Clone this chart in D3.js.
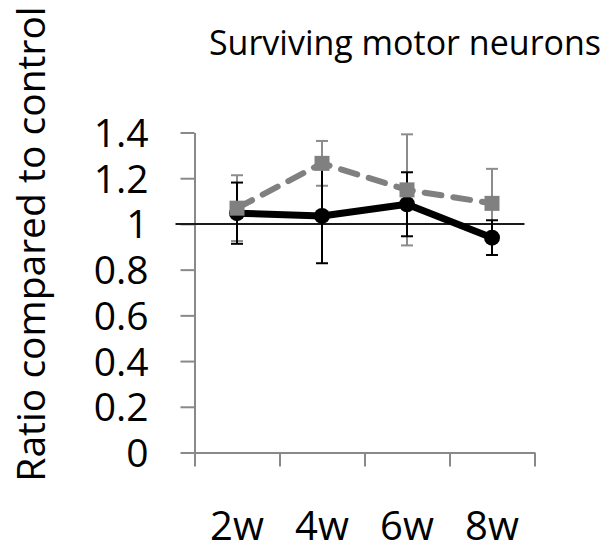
<!DOCTYPE html>
<meta charset="utf-8">
<style>
	body { margin: 0; background: #fff; }
	text { font-family: "Open Sans", sans-serif; fill: #000; }
	.axis path, .axis line { stroke: #898989; stroke-width: 2; }
	.axis text { font-size: 39px; }
</style>
<body>
<script src="https://d3js.org/d3.v7.min.js"></script>
<script>

	var categories = ["2w", "4w", "6w", "8w"];
	var yTicks = [0, 0.2, 0.4, 0.6, 0.8, 1, 1.2, 1.4];

	// black series (circles, solid)
	var blackMean = [1.047, 1.035, 1.086, 0.940];
	var blackErr = [0.134, 0.207, 0.140, 0.076];

	// grey series (squares, dashed)
	var greyMean = [1.069, 1.265, 1.149, 1.090];
	var greyErr = [0.144, 0.098, 0.243, 0.151];

	var refValue = 1;

	var width = 613,
		height = 551;

	var plot = {left: 194.5, right: 534.5, top: 132.5, bottom: 452.5};

	var svg = d3.select("body").append("svg")
		.attr("width", width)
		.attr("height", height);

	var x = d3.scaleBand()
		.domain(categories)
		.range([plot.left, plot.right]);

	var xEdge = d3.scaleLinear()
		.domain([0, categories.length])
		.range([plot.left, plot.right]);

	var y = d3.scaleLinear()
		.domain([0, 1.4])
		.range([plot.bottom, plot.top]);

	function cx(d, i) { return x(categories[i]) + x.bandwidth() / 2; }

	// title
	svg.append("text")
		.attr("x", 405)
		.attr("y", 55)
		.attr("text-anchor", "middle")
		.style("font-size", "34px")
		.text("Surviving motor neurons");

	// y axis title
	svg.append("text")
		.attr("transform", "translate(45,244) rotate(-90)")
		.attr("text-anchor", "middle")
		.style("font-size", "39px")
		.text("Ratio compared to control");

	// y axis
	var yAxis = svg.append("g")
		.attr("class", "axis")
		.attr("transform", "translate(" + plot.left + ",0)")
		.call(d3.axisLeft(y)
			.tickValues(yTicks)
			.tickSize(14)
			.tickSizeOuter(0)
			.tickPadding(32)
			.tickFormat(function(d) { return d3.format("")(+d.toFixed(1)); }));
	yAxis.selectAll("text").attr("dy", "0.36em");

	// x axis (ticks on category edges)
	svg.append("g")
		.attr("class", "axis")
		.attr("transform", "translate(0," + plot.bottom + ")")
		.call(d3.axisBottom(xEdge)
			.tickValues(d3.range(categories.length + 1))
			.tickSize(14)
			.tickSizeOuter(0)
			.tickFormat(""));

	// x labels
	svg.selectAll(".xlabel")
		.data(categories)
		.enter().append("text")
		.attr("class", "xlabel")
		.attr("x", function(d) { return x(d) + x.bandwidth() / 2; })
		.attr("y", 540)
		.attr("text-anchor", "middle")
		.style("font-size", "40px")
		.text(function(d) { return d; });

	// reference line at 1
	svg.append("line")
		.attr("x1", plot.left - 19)
		.attr("x2", plot.right - 10)
		.attr("y1", y(refValue))
		.attr("y2", y(refValue))
		.attr("stroke", "#1a1a1a")
		.attr("stroke-width", 2);

	function errorBars(mean, err, color) {
		var g = svg.append("g")
			.attr("stroke", color)
			.attr("stroke-width", 2);
		g.selectAll(".v")
			.data(mean)
			.enter().append("line")
			.attr("x1", cx).attr("x2", cx)
			.attr("y1", function(d, i) { return y(d + err[i]); })
			.attr("y2", function(d, i) { return y(d - err[i]); });
		g.selectAll(".top")
			.data(mean)
			.enter().append("line")
			.attr("x1", function(d, i) { return cx(d, i) - 6; })
			.attr("x2", function(d, i) { return cx(d, i) + 6; })
			.attr("y1", function(d, i) { return y(d + err[i]); })
			.attr("y2", function(d, i) { return y(d + err[i]); });
		g.selectAll(".bot")
			.data(mean)
			.enter().append("line")
			.attr("x1", function(d, i) { return cx(d, i) - 6; })
			.attr("x2", function(d, i) { return cx(d, i) + 6; })
			.attr("y1", function(d, i) { return y(d - err[i]); })
			.attr("y2", function(d, i) { return y(d - err[i]); });
	}

	errorBars(greyMean, greyErr, "#8c8c8c");
	errorBars(blackMean, blackErr, "#000");

	var line = d3.line()
		.x(function(d, i) { return cx(d, i); })
		.y(function(d) { return y(d); });

	svg.append("path")
		.datum(blackMean)
		.attr("d", line)
		.attr("fill", "none")
		.attr("stroke", "#000")
		.attr("stroke-width", 7)
		.attr("stroke-linejoin", "round");

	svg.append("path")
		.datum(greyMean)
		.attr("d", line)
		.attr("fill", "none")
		.attr("stroke", "#808080")
		.attr("stroke-width", 6)
		.attr("stroke-dasharray", "17,12")
		.attr("stroke-linecap", "round");

	svg.selectAll(".dot")
		.data(blackMean)
		.enter().append("circle")
		.attr("class", "dot")
		.attr("cx", cx)
		.attr("cy", function(d) { return y(d); })
		.attr("r", 8)
		.attr("fill", "#000");

	svg.selectAll(".sq")
		.data(greyMean)
		.enter().append("rect")
		.attr("class", "sq")
		.attr("x", function(d, i) { return cx(d, i) - 7.5; })
		.attr("y", function(d) { return y(d) - 7.5; })
		.attr("width", 15)
		.attr("height", 15)
		.attr("fill", "#808080");
</script>
